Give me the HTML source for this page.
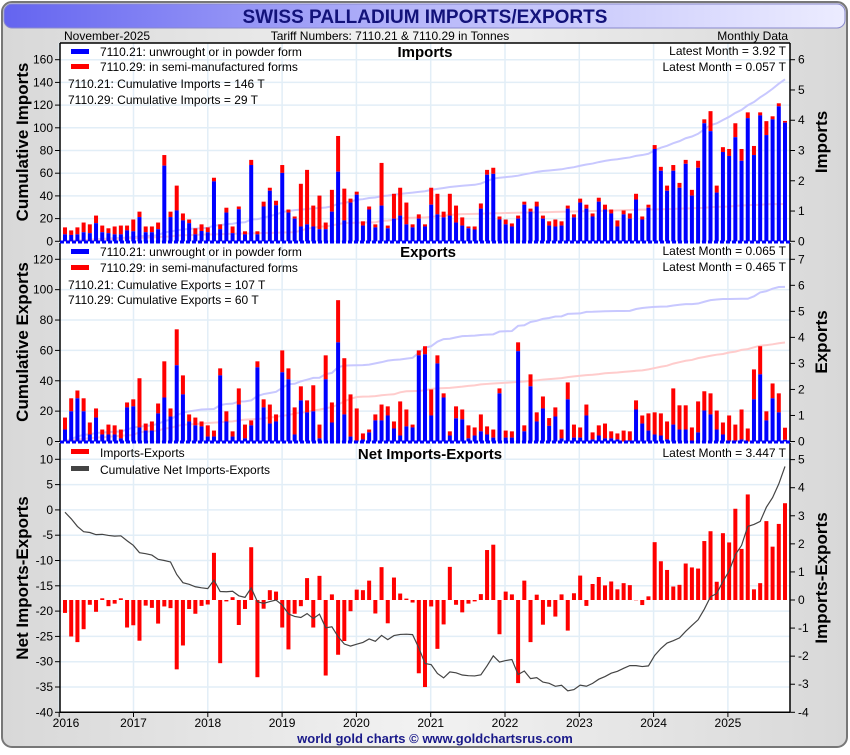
<!DOCTYPE html>
<html><head><meta charset="utf-8"><style>
body{margin:0;width:850px;height:750px;overflow:hidden;background:#fff;font-family:"Liberation Sans",sans-serif}
</style></head><body>
<svg id="chart" width="850" height="750" xmlns="http://www.w3.org/2000/svg" font-family="Liberation Sans, sans-serif">
<defs>
<linearGradient id="bg" x1="0" x2="1" y1="0" y2="0"><stop offset="0" stop-color="#d8d8d8"/><stop offset="0.5" stop-color="#f2f2f2"/><stop offset="1" stop-color="#d8d8d8"/></linearGradient>
<linearGradient id="tb" x1="0" x2="1" y1="0" y2="0"><stop offset="0" stop-color="#6464f0"/><stop offset="0.5" stop-color="#b8b8fa"/><stop offset="1" stop-color="#ececff"/></linearGradient>
</defs>
<rect x="2" y="2" width="845" height="745" rx="10" fill="url(#bg)" stroke="#777" stroke-width="2"/>
<rect x="4" y="4" width="841" height="24" rx="8" fill="url(#tb)" stroke="#8888cc"/>
<text x="425" y="23" text-anchor="middle" font-size="19" font-weight="bold" fill="#12127a">SWISS PALLADIUM IMPORTS/EXPORTS</text>
<text x="64" y="40" font-size="12">November-2025</text>
<text x="390" y="40" text-anchor="middle" font-size="12">Tariff Numbers: 7110.21 &amp; 7110.29 in Tonnes</text>
<text x="788" y="40" text-anchor="end" font-size="12">Monthly Data</text>
<rect x="60" y="43" width="730" height="669" fill="#fff"/>
<g id="g"></g>
<text x="435" y="743" text-anchor="middle" font-size="13" font-weight="bold" fill="#1a1a8a">world gold charts © www.goldchartsrus.com</text>
</svg>
<script>
const impBlue=[.23,.21,.23,.30,.27,.60,.30,.27,.23,.23,.36,.33,.80,.30,.30,.40,2.50,.80,1.02,.69,.60,.23,.34,.30,1.98,.40,.95,.27,1.06,.23,2.52,.23,1.15,1.67,1.19,2.26,.95,.75,.49,.56,.49,.40,.40,.98,2.30,.69,1.28,1.54,.52,1.05,.46,1.18,.43,.75,.85,.56,.46,.75,.49,1.21,.89,.79,.85,.62,.52,.43,.39,1.08,2.20,2.23,.72,.56,.49,.75,1.21,.98,1.15,.75,.52,.49,.52,1.08,.79,1.28,1.08,.82,1.31,1.05,.92,.49,.89,.75,1.38,.72,1.11,3.05,2.33,1.67,2.33,1.77,2.56,1.51,2.43,3.90,3.64,1.61,2.95,2.82,3.44,2.66,4.07,2.85,4.16,3.51,4.03,4.46,3.92];
const impTotal=[.46,.36,.46,.62,.56,.85,.52,.43,.49,.52,.52,.72,.98,.49,.49,.62,2.85,.98,1.84,.92,.72,.43,.56,.46,2.10,.56,1.11,.49,1.15,.33,2.69,.33,1.31,1.77,1.34,2.52,1.05,.82,1.90,2.36,1.18,1.51,.62,1.70,3.48,1.74,1.41,1.64,.66,1.15,.56,2.59,.52,1.57,1.77,1.28,.56,.89,.56,1.77,1.57,.98,1.57,1.18,.79,.49,.49,1.25,2.36,2.43,.82,.72,.59,.85,1.31,1.08,1.31,.85,.66,.72,.66,1.18,.89,1.41,1.21,.92,1.44,1.21,1.05,.69,1.02,.92,1.57,.82,1.21,3.18,2.46,1.84,2.52,1.93,2.69,1.70,2.66,4.03,4.30,1.84,3.11,3.05,3.90,3.05,4.26,3.15,4.26,3.97,4.13,4.56,3.977];
const expBlue=[.46,1.16,1.66,1.16,.27,.92,.27,.27,.27,.12,1.31,1.35,.54,.42,.42,1.08,1.69,.96,2.93,1.81,.77,.62,.58,.19,.19,2.54,.77,.19,1.42,.12,.62,2.85,1.31,.69,.77,2.66,2.39,.27,1.58,1.12,1.16,.12,2.39,.73,3.81,1.04,.19,.04,.08,.35,.81,.81,1.00,.50,.23,.58,.54,3.31,3.35,1.00,3.00,1.69,.23,.89,.85,.12,.23,.39,.27,.15,1.85,.15,.15,3.47,.39,2.12,.77,1.27,.60,.96,.12,1.62,.15,.15,1.00,.08,.23,.12,.12,.08,0,.04,1.23,.69,.42,.27,.23,.08,.65,.46,.46,0,.35,1.19,1.04,.46,.27,.04,.04,.08,0,1.62,2.58,.81,1.66,1.12,.065];
const expTotal=[.92,1.66,1.96,1.66,.73,1.27,.46,.65,.62,.46,1.50,1.62,2.43,.69,.77,1.46,3.08,1.27,4.31,2.54,1.04,.92,.77,.62,.42,2.81,1.16,.39,2.04,.65,.81,3.08,1.62,1.42,1.04,3.50,2.81,1.31,2.12,1.58,2.16,.65,3.31,1.50,5.43,3.20,1.81,1.27,.31,.46,1.04,1.42,1.35,.77,1.54,1.23,.65,3.50,3.66,2.00,3.31,1.85,.39,1.35,1.23,.62,.54,1.04,.58,.46,2.04,.42,.39,3.81,.62,2.58,1.12,1.73,.90,1.31,.46,2.27,.65,.54,1.42,.35,.62,.69,.39,.31,.42,.39,1.58,1.00,1.08,1.12,1.08,.77,2.04,1.39,1.39,.54,1.54,1.93,1.85,1.19,.73,1.00,.65,1.23,.50,2.77,3.66,1.16,2.23,1.85,.53];
const years=["2016","2017","2018","2019","2020","2021","2022","2023","2024","2025"];
const impLeftTicks=[0,20,40,60,80,100,120,140,160];
const impRightTicks=[0,1,2,3,4,5,6];
const expLeftTicks=[0,20,40,60,80,100,120];
const expRightTicks=[0,1,2,3,4,5,6,7];
const netLeftTicks=[10,5,0,-5,-10,-15,-20,-25,-30,-35,-40];
const netRightTicks=[5,4,3,2,1,0,-1,-2,-3,-4];
const cumLabels=["146","29","107","60"];

const NS="http://www.w3.org/2000/svg",G=document.getElementById('g');
function el(t,a,txt){const e=document.createElementNS(NS,t);for(const k in a)e.setAttribute(k,a[k]);if(txt!=null)e.textContent=txt;G.appendChild(e);return e;}
const N=impBlue.length, X0=65, XS=720/(N-1), L=60, R=790;
const xb=i=>X0+i*XS;
const lin=(v0,y0,v1,y1)=>v=>y0+(v-v0)*(y1-y0)/(v1-v0);
const yImpL=lin(0,241.3,160,59.7), yImpR=lin(0,241.3,6,59.7);
const yExpL=lin(0,441.5,120,259.3), yExpR=lin(0,441.5,7,259.3);
const yNetL=lin(10,459.3,-40,712.3), yNetR=lin(0,600,-4,712.3);
const cum=a=>{let s=0;return a.map(v=>s+=v);};
const diff=(a,b)=>a.map((v,i)=>v-b[i]);

function grid(top,bot,lt,ly){
  years.forEach((y,k)=>{const x=59.2+k*74.3;
    const g=el('line',{x1:x,x2:x,y1:top,y2:bot,stroke:'#e2eef7','stroke-width':1.5});
    });
  lt.forEach(v=>{const y=ly(v);
    const g=el('line',{x1:L,x2:R,y1:y,y2:y,stroke:'#e2eef7','stroke-width':1.5});
    });
}
function axes(top,bot,lt,ly,rt,ry,ltitle,rtitle,cy){
  el('line',{x1:L,x2:L,y1:top,y2:bot,stroke:'#000','stroke-width':1.5});
  el('line',{x1:R,x2:R,y1:top,y2:bot,stroke:'#000','stroke-width':1.5});
  lt.forEach(v=>{const y=ly(v);el('line',{x1:L-5,x2:L,y1:y,y2:y,stroke:'#000'});
    const t=el('text',{x:L-7,y:y+4,'text-anchor':'end','font-size':12},v);
    });
  rt.forEach(v=>{const y=ry(v);el('line',{x1:R,x2:R+5,y1:y,y2:y,stroke:'#000'});
    const t=el('text',{x:R+8,y:y+4,'font-size':12},v);
    });
  const a=el('text',{x:0,y:0,transform:`translate(28,${cy}) rotate(-90)`,'text-anchor':'middle','font-size':17,'font-weight':'bold'},ltitle);
  
  const b=el('text',{x:0,y:0,transform:`translate(827,${cy}) rotate(-90)`,'text-anchor':'middle','font-size':17,'font-weight':'bold'},rtitle);
  
}
function line(vals,xf,yf,color,w){
  return el('polyline',{points:vals.map((v,i)=>xf(i)+','+yf(v)).join(' '),fill:'none',stroke:color,'stroke-width':w});
}
function stacked(blue,total,yR,yL){
  const lb=line(cum(blue),xb,yL,'#c8c8ff',2);
  const lr=line(cum(diff(total,blue)),xb,yL,'#ffcccc',2);
  blue.forEach((b,i)=>{const x=xb(i)-2;
    const r=el('rect',{x:x,y:yR(total[i]),width:4,height:Math.max(0,yR(b)-yR(total[i])),fill:'#ff0000'});
    
    const q=el('rect',{x:x,y:yR(b),width:4,height:Math.max(0,yR(0)-yR(b)),fill:'#0000ff'});
    });
}
function legendSw(y,c,label,name){
  const s=el('rect',{x:71,y:y-3,width:18,height:5,fill:c});
  const t=el('text',{x:100,y:y+4,'font-size':12},label);
}
function txt(x,y,s,anchor,size,bold,name){
  const t=el('text',{x:x,y:y,'text-anchor':anchor,'font-size':size,'font-weight':bold?'bold':'normal'},s);
  
}

/* imports panel */
grid(43,241.3,impLeftTicks,yImpL);
stacked(impBlue,impTotal,yImpR,yImpL);
axes(43,241.3,impLeftTicks,yImpL,impRightTicks,yImpR,'Cumulative Imports','Imports',142);
legendSw(52,'#0000ff','7110.21: unwrought or in powder form','imports-legend-7110-21');
legendSw(67,'#ff0000','7110.29: in semi-manufactured forms','imports-legend-7110-29');
txt(68,88,'7110.21: Cumulative Imports = '+cumLabels[0]+' T','start',12,false,'cumulative-imports-21');
txt(68,104,'7110.29: Cumulative Imports = '+cumLabels[1]+' T','start',12,false,'cumulative-imports-29');
txt(425,57,'Imports','middle',15,true,'imports-panel-title');
txt(786,55,'Latest Month = '+impBlue[N-1].toFixed(2)+' T','end',12,false,'imports-latest-21');
txt(786,71,'Latest Month = 0.057 T','end',12,false,'imports-latest-29');

/* exports panel */
grid(243,441.5,expLeftTicks,yExpL);
stacked(expBlue,expTotal,yExpR,yExpL);
axes(243,441.5,expLeftTicks,yExpL,expRightTicks,yExpR,'Cumulative Exports','Exports',342);
legendSw(252,'#0000ff','7110.21: unwrought or in powder form','exports-legend-7110-21');
legendSw(268,'#ff0000','7110.29: in semi-manufactured forms','exports-legend-7110-29');
txt(68,289,'7110.21: Cumulative Exports = '+cumLabels[2]+' T','start',12,false,'cumulative-exports-21');
txt(68,304,'7110.29: Cumulative Exports = '+cumLabels[3]+' T','start',12,false,'cumulative-exports-29');
txt(428,257,'Exports','middle',15,true,'exports-panel-title');
txt(786,255,'Latest Month = 0.065 T','end',12,false,'exports-latest-21');
txt(786,271,'Latest Month = 0.465 T','end',12,false,'exports-latest-29');

/* net panel */
grid(443,712.3,netLeftTicks,yNetL);
const net=diff(impTotal,expTotal);
net.forEach((v,i)=>{const y0=yNetR(0),y1=yNetR(v);
  const r=el('rect',{x:xb(i)-2,y:Math.min(y0,y1),width:4,height:Math.abs(y1-y0),fill:'#ff0000'});
  });
const cl=line(cum(net),xb,yNetL,'#444',1.2);
axes(443,712.3,netLeftTicks,yNetL,netRightTicks,yNetR,'Net Imports-Exports','Imports-Exports',578);
el('line',{x1:L,x2:R,y1:712.3,y2:712.3,stroke:'#000','stroke-width':1.5});
el('line',{x1:L,x2:R,y1:43,y2:43,stroke:'#000','stroke-width':1.5});
[242,442].forEach(y=>{const d=el('line',{x1:L,x2:R,y1:y,y2:y,stroke:'#0000ff','stroke-width':3,'stroke-dasharray':'4 2'});
  });
const ns=el('rect',{x:71,y:449,width:18,height:5,fill:'#ff0000'});
txt(100,457,'Imports-Exports','start',12,false,'net-legend-label');
const cs=el('rect',{x:71,y:466,width:18,height:5,fill:'#444'});
txt(100,474,'Cumulative Net Imports-Exports','start',12,false,'cum-net-legend-label');
txt(430,459,'Net Imports-Exports','middle',15,true,'net-panel-title');
txt(786,457,'Latest Month = 3.447 T','end',12,false,'net-latest');
years.forEach((y,k)=>{const x=k==0?66:59.2+k*74.3;
  el('line',{x1:59.2+k*74.3,x2:59.2+k*74.3,y1:712,y2:717,stroke:'#000'});
  txt(x,727,y,'middle',12,false,'year-label');});
</script>
</body></html>
